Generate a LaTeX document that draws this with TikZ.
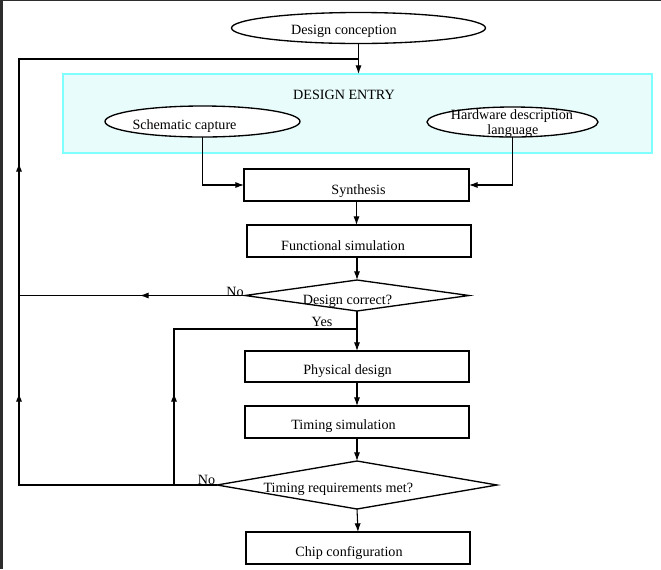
\documentclass[tikz,border=0pt]{standalone}
\usepackage{fontspec}
\setmainfont{Liberation Serif}
\usetikzlibrary{shapes.geometric,arrows.meta,decorations.markings}
\definecolor{entryfill}{RGB}{233,252,252}
\definecolor{entryline}{RGB}{128,255,255}
\definecolor{edgedark}{RGB}{45,45,45}
\begin{document}
\begin{tikzpicture}[x=0.75pt,y=-0.75pt,
  every node/.style={inner sep=0pt,outer sep=0pt},
  lbl/.style={anchor=base,font=\fontsize{10.6}{12}\selectfont},
  stepbox/.style={draw,line width=1pt,fill=white,minimum width=168pt,minimum height=24pt},
  oval/.style={ellipse,draw,line width=1pt,fill=white},
  decision/.style={diamond,draw,line width=1pt,fill=white},
  flow/.style={line width=0.8pt},
  tip/.style={-{Latex[length=6.5pt,width=4.6pt]}},
  uparrows/.style 2 args={postaction={decorate},decoration={markings,
      mark=at position #1 with {\arrow{Latex[length=6.5pt,width=4.6pt]}},
      mark=at position #2 with {\arrow{Latex[length=6.5pt,width=4.6pt]}}}},
  onearrow/.style={postaction={decorate},decoration={markings,
      mark=at position #1 with {\arrow{Latex[length=6.5pt,width=4.6pt]}}}},
]
\useasboundingbox (0,0) rectangle (661,569);
% page background with the dark frame edge
\fill[white] (0,0) rectangle (661,569);
\fill[edgedark] (0,0) rectangle (3,569);
\fill[edgedark] (0,0) rectangle (661,1);

% shapes
\node[oval,minimum width=190.5pt,minimum height=23.25pt] (dc) at (358.5,28) {};
\node[draw=entryline,fill=entryfill,line width=1.2pt,minimum width=441.75pt,minimum height=59.25pt] (entry) at (357.5,113.5) {};
\node[oval,minimum width=146.25pt,minimum height=23.25pt] (sc) at (202.5,121.5) {};
\node[oval,minimum width=128.25pt,minimum height=22.5pt] (hdl) at (512.5,122) {};
\node[stepbox,minimum width=168.75pt] (syn) at (356.5,185) {};
\node[stepbox] (fs) at (359,241) {};
\node[decision,minimum width=168pt,minimum height=23.25pt] (dcor) at (357,295.5) {};
\node[stepbox,minimum height=23.25pt] (pd) at (357,366.5) {};
\node[stepbox] (ts) at (357,422) {};
\node[decision,minimum width=210pt,minimum height=36pt] (tm) at (357,485) {};
\node[stepbox] (chip) at (358,548) {};

% loop-back corner points
\coordinate (loopB) at (19,485);
\coordinate (loopT) at (19,59);
\coordinate (innerB) at (174,485);
\coordinate (innerT) at (174,329);

% main flow
\draw[flow,tip] (dc.south) -- (dc.south |- entry.north);
\draw[flow,tip] (sc.south) |- (syn.west);
\draw[flow,tip] (hdl.south) |- (syn.east);
\draw[flow,tip] (syn.south) -- (syn.south |- fs.north);
\draw[flow,tip] (dcor.north |- fs.south) -- (dcor.north);
\draw[flow,tip] (dcor.south) -- (pd.north);
\draw[flow,tip] (pd.south) -- (ts.north);
\draw[flow,tip] (ts.south) -- (tm.north);
\draw[flow,tip] (tm.south) -- (chip.north);

% feedback paths
\draw[flow,uparrows={217.5pt}{390pt}] (tm.west) -- (loopB) -- (loopT) -- (dc.south |- loopT);
\draw[flow,onearrow=78.75pt] (dcor.west) -- (dcor.west -| loopB);
\draw[flow,onearrow=69pt] (innerB) -- (innerT) -- (innerT -| pd.north);

% texts
\node[lbl] (t-dc) at (344,34) {Design conception};
\node[lbl] (t-entry) at (344,99) {DESIGN ENTRY};
\node[lbl] (t-sc) at (184.5,129) {Schematic capture};
\node[lbl] (t-hdl1) at (512,119.5) {Hardware description};
\node[lbl] (t-hdl2) at (513,134) {language};
\node[lbl] (t-syn) at (358.5,194) {Synthesis};
\node[lbl] (t-fs) at (343,250) {Functional simulation};
\node[lbl] (t-dcor) at (347.5,304) {Design correct?};
\node[lbl] (t-no1) at (235,296) {No};
\node[lbl] (t-yes) at (322,326) {Yes};
\node[lbl] (t-pd) at (347.5,374) {Physical design};
\node[lbl] (t-ts) at (343.5,429) {Timing simulation};
\node[lbl] (t-tm) at (338.3,492) {Timing requirements met?};
\node[lbl] (t-no2) at (206.5,484) {No};
\node[lbl] (t-chip) at (349,556) {Chip configuration};
\end{tikzpicture}
\end{document}
